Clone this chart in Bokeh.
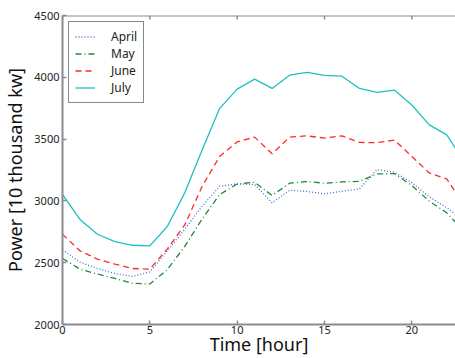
import math
from bokeh.plotting import figure
from bokeh.models import Range1d, FixedTicker, Legend, LegendItem, Span
from bokeh.embed import file_html
from bokeh.resources import INLINE

hours = list(range(24))
april = [2604, 2505, 2453, 2413, 2389, 2425, 2596, 2771, 2958, 3119, 3137, 3133,
         2985, 3086, 3076, 3057, 3078, 3097, 3253, 3232, 3147, 3033, 2945, 2840]
may = [2534, 2448, 2408, 2373, 2333, 2328, 2444, 2632, 2855, 3052, 3137, 3151,
       3044, 3143, 3157, 3143, 3154, 3158, 3218, 3221, 3124, 2998, 2904, 2750]
june = [2730, 2596, 2529, 2488, 2453, 2448, 2612, 2806, 3119, 3360, 3478, 3516,
        3381, 3516, 3526, 3508, 3526, 3473, 3471, 3492, 3360, 3226, 3178, 2966]
july = [3052, 2850, 2730, 2671, 2641, 2636, 2793, 3065, 3414, 3749, 3904, 3985,
        3910, 4017, 4039, 4015, 4009, 3910, 3878, 3897, 3776, 3615, 3534, 3315]

x_ticks = [0, 5, 10, 15, 20]
y_ticks = [2000, 2500, 3000, 3500, 4000, 4500]
x_min, x_max = 0, 22.5
y_min, y_max = 2000, 4500

FONT = "Noto Sans"
AXIS_COLOR = "#8c8c8c"

p = figure(width=455, height=358, output_backend="svg", toolbar_location=None,
           x_range=Range1d(x_min, x_max), y_range=Range1d(y_min, y_max),
           min_border_left=62, min_border_top=15, min_border_right=0, min_border_bottom=32)
p.outline_line_color = None
p.xgrid.visible = False
p.ygrid.visible = False

r_apr = p.line(hours, april, line_color="#3f6fd0", line_width=1.3, line_dash="1 2")
r_may = p.line(hours, may, line_color="#1e8a3e", line_width=1.3, line_dash="6 3 1 3")
r_jun = p.line(hours, june, line_color="#ff2a2a", line_width=1.3, line_dash="6 4")
r_jul = p.line(hours, july, line_color="#1fc0c0", line_width=1.3)

for ax in (p.xaxis[0], p.yaxis[0]):
    ax.axis_line_color = AXIS_COLOR
    ax.axis_line_width = 2
    ax.major_tick_line_color = AXIS_COLOR
    ax.major_tick_line_width = 1.5
    ax.major_tick_in = 4
    ax.major_tick_out = 0
    ax.minor_tick_line_color = None
    ax.major_label_text_font = FONT
    ax.major_label_text_font_size = "11px"
    ax.major_label_text_color = "#222222"
    ax.axis_label_text_font = FONT
    ax.axis_label_text_font_size = "18px"
    ax.axis_label_text_font_style = "normal"
    ax.axis_label_text_color = "#111111"

p.xaxis[0].ticker = FixedTicker(ticks=x_ticks)
p.yaxis[0].ticker = FixedTicker(ticks=y_ticks)
p.xaxis[0].axis_label = "Time [hour]"
p.yaxis[0].axis_label = "Power [10 thousand kw]"
p.xaxis[0].major_label_standoff = 1
p.xaxis[0].axis_label_standoff = -5
p.yaxis[0].major_label_standoff = 3
p.yaxis[0].axis_label_standoff = 4

# top frame line with inward ticks
p.add_layout(Span(location=y_max, dimension="width", line_color=AXIS_COLOR, line_width=2))
p.ray(x=x_ticks, y=[y_max] * len(x_ticks), length=4, length_units="screen",
      angle=-math.pi / 2, line_color=AXIS_COLOR, line_width=1.5)

legend = Legend(items=[
    LegendItem(label="April", renderers=[r_apr]),
    LegendItem(label="May", renderers=[r_may]),
    LegendItem(label="June", renderers=[r_jun]),
    LegendItem(label="July", renderers=[r_jul]),
], location="top_left")
legend.margin = 6
legend.padding = 6
legend.spacing = 0
legend.glyph_width = 20
legend.glyph_height = 17
legend.label_height = 17
legend.label_standoff = 16
legend.label_text_font = FONT
legend.label_text_font_size = "12px"
legend.label_text_color = "#222222"
legend.border_line_color = "#111111"
legend.border_line_width = 1
legend.background_fill_color = "white"
legend.background_fill_alpha = 1
p.add_layout(legend, "center")

open("out.html", "w").write(file_html(p, INLINE))
